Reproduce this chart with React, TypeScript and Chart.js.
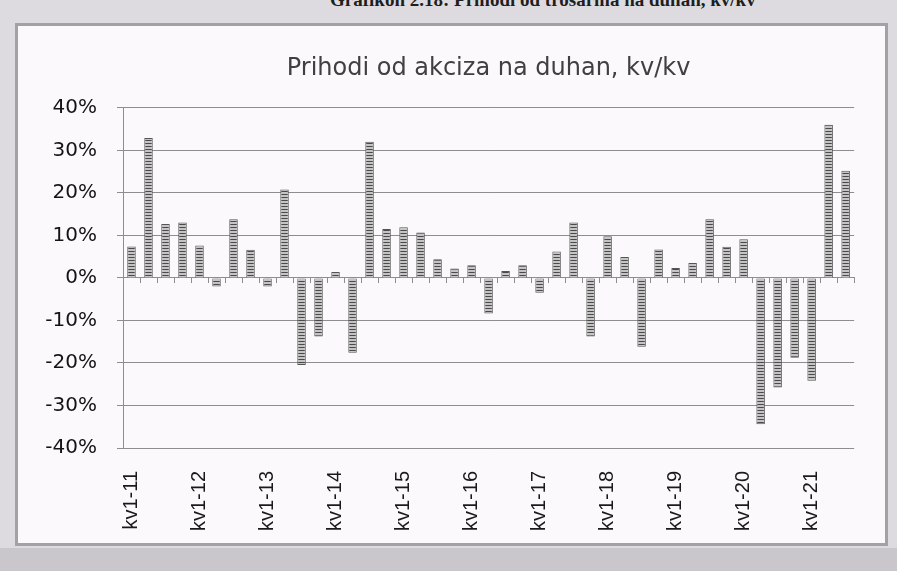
import React, { useEffect, useRef } from "react";
import { Chart, registerables } from "chart.js";

Chart.register(...registerables);

const heading = "Grafikon 2.18: Prihodi od trošarina na duhan, kv/kv";
const chartTitle = "Prihodi od akciza na duhan, kv/kv";

const categories = [
  "kv1-11", "kv2-11", "kv3-11", "kv4-11",
  "kv1-12", "kv2-12", "kv3-12", "kv4-12",
  "kv1-13", "kv2-13", "kv3-13", "kv4-13",
  "kv1-14", "kv2-14", "kv3-14", "kv4-14",
  "kv1-15", "kv2-15", "kv3-15", "kv4-15",
  "kv1-16", "kv2-16", "kv3-16", "kv4-16",
  "kv1-17", "kv2-17", "kv3-17", "kv4-17",
  "kv1-18", "kv2-18", "kv3-18", "kv4-18",
  "kv1-19", "kv2-19", "kv3-19", "kv4-19",
  "kv1-20", "kv2-20", "kv3-20", "kv4-20",
  "kv1-21", "kv2-21", "kv3-21",
];

// percent, year-on-year
const values = [
  7.4, 32.9, 12.7, 13.0,
  7.6, -2.0, 13.8, 6.6,
  -2.0, 20.8, -20.5, -13.8,
  1.4, -17.6, 32.0, 11.5,
  11.9, 10.7, 4.4, 2.2,
  3.0, -8.4, 1.6, 3.0,
  -3.5, 6.2, 13.0, -13.8,
  9.8, 4.9, -16.2, 6.7,
  2.3, 3.5, 13.8, 7.3,
  9.1, -34.4, -25.8, -18.8,
  -24.2, 36.0, 25.2,
];

const yMin = -40;
const yMax = 40;
const yStep = 10;
const labelEvery = 4;

export default function App() {
  const ref = useRef<HTMLCanvasElement | null>(null);

  useEffect(() => {
    if (!ref.current) return;
    const pc = document.createElement("canvas");
    pc.width = 1;
    pc.height = 3;
    const pctx = pc.getContext("2d")!;
    pctx.fillStyle = "#c4c4c4";
    pctx.fillRect(0, 0, 1, 3);
    pctx.fillStyle = "#4a4a4a";
    pctx.fillRect(0, 0, 1, 1);
    const pattern = ref.current.getContext("2d")!.createPattern(pc, "repeat");

    const gridColor = "#8e8e8e";

    const chart = new Chart(ref.current, {
      type: "bar",
      data: {
        labels: categories,
        datasets: [
          {
            data: values,
            backgroundColor: pattern as any,
            borderColor: "#545454",
            borderWidth: 1,
            barPercentage: 0.5,
            categoryPercentage: 1,
          },
        ],
      },
      options: {
        animation: false,
        responsive: false,
        devicePixelRatio: 1,
        layout: { padding: { left: 0, right: 29, top: 0, bottom: 0 } },
        plugins: {
          legend: { display: false },
          tooltip: { enabled: false },
          title: {
            display: true,
            text: chartTitle,
            fullSize: false,
            color: "#404040",
            font: { family: "DejaVu Sans", size: 24, weight: "normal" },
            padding: { top: 28, bottom: 25 },
          },
        },
        scales: {
          x: {
            type: "category",
            position: "bottom",
            offset: true,
            grid: { display: false },
            border: { display: false },
            ticks: {
              autoSkip: false,
              minRotation: 90,
              maxRotation: 90,
              padding: 15,
              color: "#1a1a1a",
              font: { family: "Liberation Sans", size: 20 },
              callback: (_v: any, i: number) =>
                i % labelEvery === 0 ? categories[i] : "",
            },
            afterFit: (s: any) => {
              s.height = 95;
            },
          },
          x2: {
            type: "category",
            position: { y: 0 } as any,
            offset: true,
            grid: {
              display: true,
              drawOnChartArea: false,
              drawTicks: true,
              tickLength: 5,
              color: gridColor,
              offset: true,
            },
            border: { display: true, color: gridColor },
            ticks: { display: false },
          },
          y: {
            min: yMin,
            max: yMax,
            grid: { color: gridColor, tickLength: 6 },
            border: { display: true, color: gridColor },
            ticks: {
              stepSize: yStep,
              padding: 20,
              color: "#141414",
              font: { family: "DejaVu Sans", size: 20 },
              callback: (v: any) => v + "%",
            },
            afterFit: (s: any) => {
              s.width = 105;
            },
          },
        },
      },
    });
    return () => chart.destroy();
  }, []);

  return (
    <div
      style={{
        position: "fixed",
        left: 0,
        top: 0,
        width: 897,
        height: 571,
        background: "#dedbe0",
        overflow: "hidden",
      }}
    >
      <div
        style={{
          position: "absolute",
          left: 330,
          top: -11,
          font: "bold 19px 'Liberation Serif'",
          color: "#1e1e1e",
          whiteSpace: "nowrap",
        }}
      >
        {heading}
      </div>
      <div
        style={{
          position: "absolute",
          left: 0,
          top: 548,
          width: 897,
          height: 23,
          background: "#c9c7cb",
        }}
      />
      <div
        style={{
          position: "absolute",
          left: 15,
          top: 23,
          width: 873,
          height: 523,
          boxSizing: "border-box",
          border: "3px solid #a3a1a6",
          background: "#fcf9fc",
        }}
      >
        <canvas
          ref={ref}
          width={867}
          height={517}
          style={{ display: "block", width: 867, height: 517 }}
        />
      </div>
    </div>
  );
}
